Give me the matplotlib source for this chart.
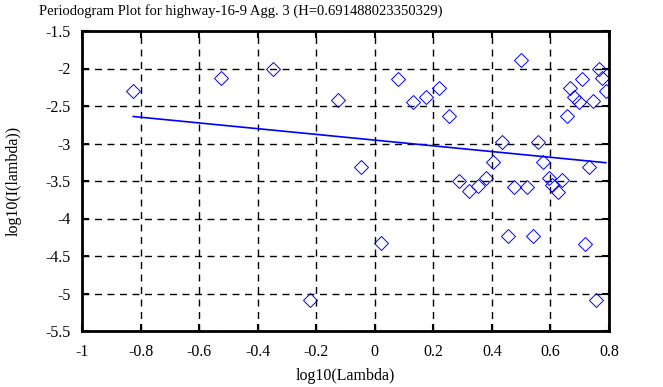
import numpy as np
import matplotlib.pyplot as plt

plt.rcParams['font.family'] = ['Liberation Serif', 'DejaVu Serif']

title = "Periodogram Plot for highway-16-9 Agg. 3 (H=0.691488023350329)"

log_lambda = [-0.825, -0.524, -0.347, -0.125, -0.046, 0.079, 0.129, 0.176, 0.219,
              0.255, 0.433, 0.557, 0.498, 0.405, 0.576, 0.733, 0.289, 0.322,
              0.352, 0.381, 0.477, 0.519, 0.596, 0.607, 0.638, 0.625, 0.655,
              0.668, 0.680, 0.696, 0.708, 0.744, 0.765, 0.777, 0.790, 0.021,
              0.456, 0.539, 0.719, 0.755, -0.221]
log_I = [-2.30, -2.12, -2.01, -2.42, -3.31, -2.14, -2.44, -2.38, -2.26,
         -2.63, -2.98, -2.98, -1.89, -3.24, -3.24, -3.31, -3.50, -3.63,
         -3.57, -3.46, -3.58, -3.58, -3.46, -3.55, -3.48, -3.64, -2.63,
         -2.26, -2.38, -2.45, -2.14, -2.43, -2.00, -2.12, -2.30, -4.33,
         -4.23, -4.23, -4.34, -5.09, -5.09]

fit_x = [-0.825, 0.789]
fit_y = [-2.64, -3.256]

fig = plt.figure(figsize=(6.63, 3.87), dpi=100)
ax = fig.add_axes([82 / 663, 1 - 331 / 387, 527 / 663, 300 / 387])

ax.plot(log_lambda, log_I, linestyle='none', marker='D', markersize=7,
        markerfacecolor='none', markeredgecolor='blue', markeredgewidth=0.7)
ax.plot(fit_x, fit_y, color='blue', linewidth=1.2)

ax.set_xlim(-1, 0.8)
ax.set_ylim(-5.5, -1.5)
ax.set_xticks(np.arange(-1, 0.81, 0.2))
ax.set_yticks(np.arange(-5.5, -1.49, 0.5))
ax.set_xticklabels(['-1', '-0.8', '-0.6', '-0.4', '-0.2', '0', '0.2', '0.4', '0.6', '0.8'])
ax.set_yticklabels(['-5.5', '-5', '-4.5', '-4', '-3.5', '-3', '-2.5', '-2', '-1.5'])
ax.grid(True, color='black', linestyle=(0, (5, 4)), linewidth=1)
ax.tick_params(direction='in', top=True, right=True, length=5, width=1.5,
               labelsize=11.5)
ax.tick_params(axis='x', pad=9)
ax.tick_params(axis='y', pad=8)
for s in ax.spines.values():
    s.set_linewidth(2)

# title sits left of the axes centre in the original
fig.text(241 / 663, 1 - 11 / 387, title, fontsize=10.5, ha='center', va='center')
ax.set_xlabel("log10(Lambda)", fontsize=11.5, labelpad=6)
ax.set_ylabel("log10(I(lambda))", fontsize=11.5, labelpad=17)

fig.savefig("out.png", dpi=100)
